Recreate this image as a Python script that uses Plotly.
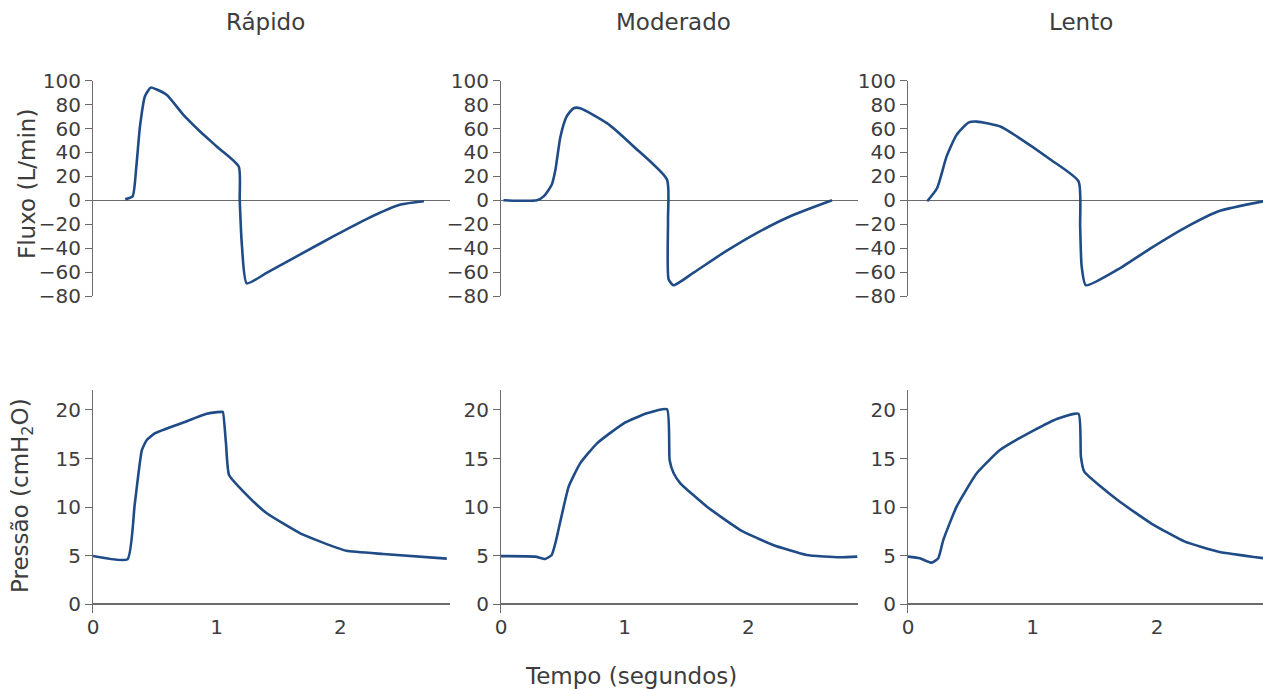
import plotly.graph_objects as go

# ---------------- data ----------------
columns = ["Rápido", "Moderado", "Lento"]

t_flow_rapido = [0.26, 0.32, 0.35, 0.38, 0.42, 0.467, 0.51, 0.597, 0.731, 0.866, 1.0, 1.178,
                 1.186, 1.204, 1.243, 1.407, 1.676, 1.946, 2.215, 2.486, 2.675]
flow_rapido = [1, 3.3, 28, 62, 87, 94.2, 92.8, 88, 71.4, 57.5, 45, 28.3,
               0.6, -38, -69.4, -60.5, -45.2, -30, -15.5, -3.6, -0.8]

t_flow_moderado = [0.02, 0.29, 0.345, 0.41, 0.44, 0.48, 0.53, 0.587, 0.64, 0.857, 1.072, 1.342,
                   1.35, 1.355, 1.395, 1.557, 1.8, 2.07, 2.339, 2.676]
flow_moderado = [0, 0, 3.3, 13, 25.6, 53, 70, 77, 77, 64.5, 45, 17.3,
                 -16, -66, -71, -60.5, -43.8, -27.2, -13.3, 0]

t_flow_lento = [0.154, 0.234, 0.31, 0.39, 0.485, 0.553, 0.741, 0.876, 1.146, 1.369,
                1.382, 1.394, 1.428, 1.685, 1.954, 2.223, 2.493, 2.857]
flow_lento = [-0.8, 10.3, 36.7, 54.7, 65, 65.8, 61.7, 53.3, 33.9, 15.8,
              -21.7, -55, -71, -57.8, -39.7, -23, -9.2, -0.8]

t_pres_rapido = [0, 0.279, 0.337, 0.395, 0.435, 0.502, 0.73, 0.919, 1.04, 1.05, 1.075, 1.10,
                 1.27, 1.405, 1.675, 1.944, 2.05, 2.346, 2.86]
pres_rapido = [4.97, 4.63, 10.25, 15.87, 16.9, 17.6, 18.7, 19.6, 19.8, 19.8, 16.55, 13.3,
               10.9, 9.36, 7.3, 5.93, 5.5, 5.17, 4.7]

t_pres_moderado = [0, 0.277, 0.358, 0.41, 0.44, 0.547, 0.64, 0.776, 0.99, 1.18, 1.342,
                   1.363, 1.395, 1.45, 1.665, 1.935, 2.2, 2.47, 2.74, 2.88]
pres_moderado = [4.95, 4.9, 4.66, 5.07, 6.3, 12.1, 14.5, 16.56, 18.6, 19.65, 20.06,
                 14.85, 13.5, 12.45, 10.04, 7.64, 6.1, 5.07, 4.83, 4.9]

t_pres_lento = [0, 0.094, 0.189, 0.243, 0.283, 0.39, 0.553, 0.741, 1.01, 1.2, 1.369,
                1.388, 1.415, 1.685, 1.954, 2.223, 2.493, 2.857]
pres_lento = [4.9, 4.73, 4.28, 4.73, 6.6, 10.04, 13.5, 15.9, 17.9, 19.1, 19.6,
              15.2, 13.65, 10.7, 8.3, 6.44, 5.4, 4.73]

flow_ticks = [100, 80, 60, 40, 20, 0, -20, -40, -60, -80]
pres_ticks = [0, 5, 10, 15, 20]
time_ticks = [0, 1, 2]

flow_title = "Fluxo (L/min)"
pres_title = "Pressão (cmH<sub>2</sub>O)"
x_title = "Tempo (segundos)"

# ---------------- figure ----------------
W, H = 1263, 689
LINE = "#1f4b86"
AX = "#6b6b6b"
TXT = "#3d3d3d"
FONT = "DejaVu Sans"
TICK_SIZE = 20
TITLE_SIZE = 23

def px(x):
    return x / W

def py(y):
    return 1 - y / H

x_domains = [(93, 450), (501, 858), (908, 1263)]
top_dom = (296, 80.7)
bot_dom = (612.5, 390)

flows = [(t_flow_rapido, flow_rapido), (t_flow_moderado, flow_moderado), (t_flow_lento, flow_lento)]
press = [(t_pres_rapido, pres_rapido), (t_pres_moderado, pres_moderado), (t_pres_lento, pres_lento)]

fig = go.Figure()
layout = dict(
    width=W, height=H, margin=dict(l=0, r=0, t=0, b=0, autoexpand=False),
    paper_bgcolor="white", plot_bgcolor="white", showlegend=False,
    font=dict(family=FONT, size=TICK_SIZE, color=TXT),
)

x_ranges = [(0, 2.886), (0, 2.886), (0, 2.85)]

for i in range(3):
    n_top = i + 1
    n_bot = i + 4
    xs, ys = flows[i]
    fig.add_trace(go.Scatter(x=xs, y=ys, mode="lines", xaxis=f"x{n_top}", yaxis=f"y{n_top}",
                             line=dict(color=LINE, width=2.6, shape="spline", smoothing=0.55),
                             hoverinfo="skip"))
    xs, ys = press[i]
    fig.add_trace(go.Scatter(x=xs, y=ys, mode="lines", xaxis=f"x{n_bot}", yaxis=f"y{n_bot}",
                             line=dict(color=LINE, width=2.6, shape="spline", smoothing=0.45),
                             hoverinfo="skip"))
    dom = [px(x_domains[i][0]), px(x_domains[i][1])]
    k = "" if n_top == 1 else str(n_top)
    layout[f"xaxis{k}"] = dict(domain=dom, range=list(x_ranges[i]), anchor=f"y{n_top}",
                               visible=False, showgrid=False, zeroline=False, automargin=False)
    layout[f"yaxis{k}"] = dict(domain=[py(top_dom[0]), py(top_dom[1])], range=[-80, 100],
                               anchor=f"x{n_top}", tickvals=flow_ticks, ticks="outside",
                               ticklen=7, tickcolor=AX, tickwidth=1, showline=True,
                               linecolor=AX, linewidth=1, showgrid=False, zeroline=True,
                               zerolinecolor=AX, zerolinewidth=1, automargin=False,
                               tickfont=dict(family=FONT, size=TICK_SIZE, color=TXT))
    layout[f"xaxis{n_bot}"] = dict(domain=dom, range=list(x_ranges[i]), anchor=f"y{n_bot}",
                                   tickvals=time_ticks, ticks="", showline=False,
                                   showgrid=False, zeroline=False, automargin=False,
                                   tickfont=dict(family=FONT, size=TICK_SIZE, color=TXT))
    layout[f"yaxis{n_bot}"] = dict(domain=[py(bot_dom[0]), py(bot_dom[1])], range=[-0.85, 22.05],
                                   anchor=f"x{n_bot}", tickvals=pres_ticks, ticks="outside",
                                   ticklen=7, tickcolor=AX, tickwidth=1, showline=True,
                                   linecolor=AX, linewidth=1, showgrid=False, zeroline=True,
                                   zerolinecolor=AX, zerolinewidth=1.5, automargin=False,
                                   tickfont=dict(family=FONT, size=TICK_SIZE, color=TXT))

annotations = []
col_x = [265, 673, 1081]
for name, cx in zip(columns, col_x):
    annotations.append(dict(text=name, x=px(cx), y=py(22), xref="paper", yref="paper",
                            showarrow=False, xanchor="center", yanchor="middle",
                            font=dict(family=FONT, size=TITLE_SIZE, color=TXT)))
annotations.append(dict(text=flow_title, x=px(27), y=py(184), xref="paper", yref="paper",
                        showarrow=False, textangle=-90, xanchor="center", yanchor="middle",
                        font=dict(family=FONT, size=TITLE_SIZE, color=TXT)))
annotations.append(dict(text=pres_title, x=px(22), y=py(496), xref="paper", yref="paper",
                        showarrow=False, textangle=-90, xanchor="center", yanchor="middle",
                        font=dict(family=FONT, size=TITLE_SIZE, color=TXT)))
annotations.append(dict(text=x_title, x=px(631), y=py(676), xref="paper", yref="paper",
                        showarrow=False, xanchor="center", yanchor="middle",
                        font=dict(family=FONT, size=TITLE_SIZE, color=TXT)))
layout["annotations"] = annotations

fig.update_layout(**layout)
fig.write_html("out.html", config={"displayModeBar": False, "staticPlot": True},
               post_script="document.body.style.margin='0px';document.body.style.overflow='hidden';")
